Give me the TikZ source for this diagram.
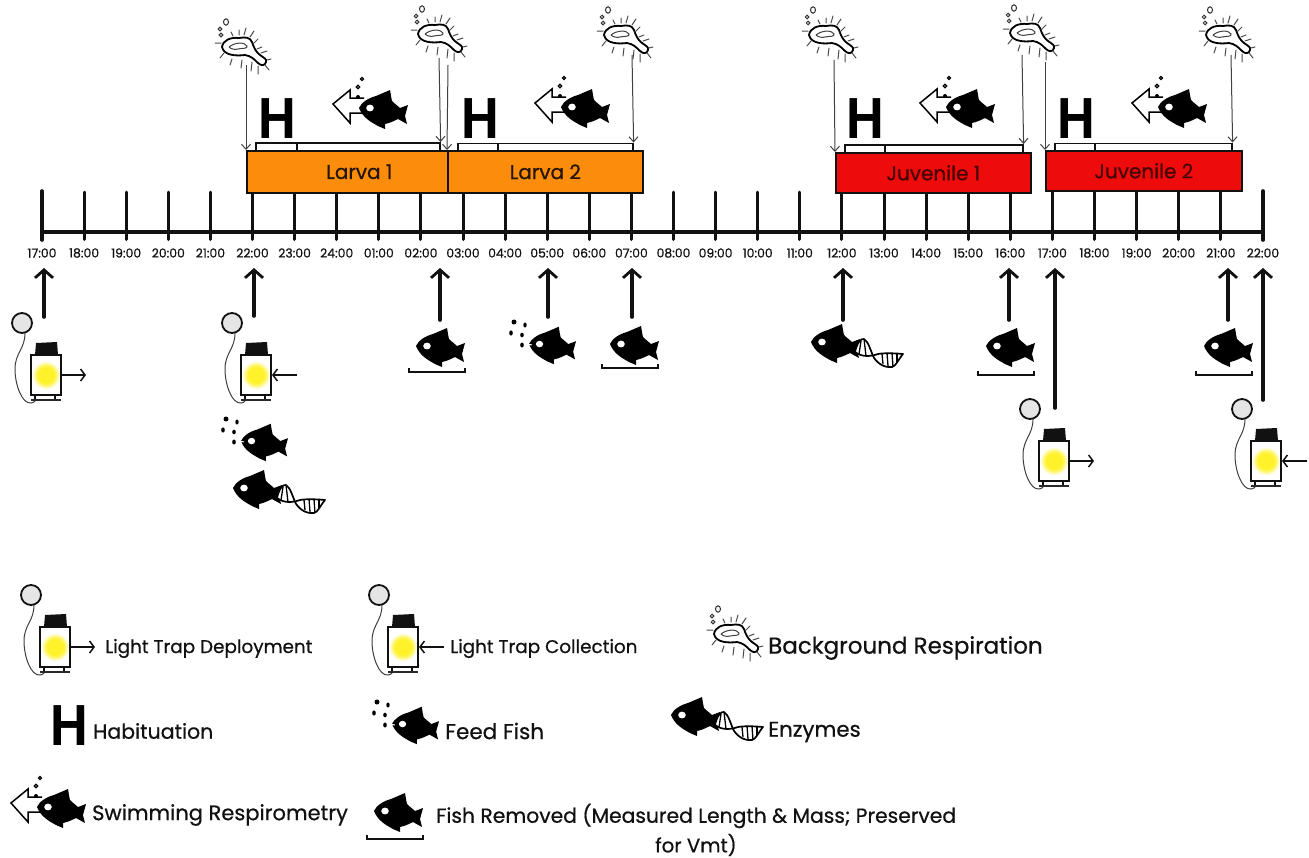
\documentclass[tikz,border=0pt]{standalone}
\usepackage{fontspec}
\setmainfont{Poppins}[FakeBold=0.6]
\newfontfamily\hfont{Liberation Sans}
\usetikzlibrary{arrows.meta}
\definecolor{orangebox}{HTML}{FB8C0C}
\definecolor{redbox}{HTML}{EE0B0B}
\definecolor{ink}{HTML}{111111}
\definecolor{glowy}{HTML}{FFF22A}
\pgfdeclareradialshading{trapglow}{\pgfpoint{0bp}{0bp}}{color(0bp)=(glowy); color(14bp)=(glowy); color(20bp)=(glowy!55!white); color(25bp)=(white); color(50bp)=(white)}
\tikzset{
  x=1pt,y=-1pt,
  tick/.style={line width=3pt,line cap=round,ink},
  thinarrow/.style={line width=1pt,draw=ink!80,-{Straight Barb[length=5pt,width=9pt,line width=1pt]}},
  bigarrow/.style={line width=3.6pt,line cap=round,ink,-{Straight Barb[length=8pt,width=18pt,line width=2.8pt]}},
  hour/.style={font=\fontsize{12.4}{14}\selectfont,text=ink,inner sep=0pt},
  stagebox/.style={draw=ink,line width=1.6pt,anchor=north west,inner sep=0pt,font=\fontsize{20}{22}\selectfont},
  subbar/.style={draw=ink,line width=1.6pt,fill=white,anchor=north west,inner sep=0pt,minimum height=7.5pt},
  legend/.style={anchor=west,inner sep=0pt,text=ink,font=\fontsize{18.4}{20}\selectfont},
  bigH/.style={inner sep=0pt,text=black,font=\hfont\bfseries\fontsize{58}{60}\selectfont},
  fish/.pic={
    \fill[black,line join=round] (-24,-1) .. controls (-22,-6) and (-15,-11) .. (-7,-13) -- (7,-19)
      .. controls (8,-14) and (8,-11) .. (9,-8) .. controls (12,-5) and (15,-3) .. (17,-1)
      -- (25,-4) -- (22,7) -- (24,15) -- (15,10) .. controls (11,12) and (7,14) .. (2,15)
      -- (2,20) -- (-5,17) .. controls (-12,13) and (-20,9) .. (-24,-1) -- cycle;
    \fill[white] (-13,-1) ellipse[x radius=3.8,y radius=3.4];
  },
  pellets/.pic={
    \fill[black] (-38,-23) circle[radius=2.5] (-27,-20) ellipse[x radius=1.7,y radius=2.5]
      (-41,-12) ellipse[x radius=1.8,y radius=2.6] (-30,-10) ellipse[x radius=1.8,y radius=2.3]
      (-30,0) ellipse[x radius=1.8,y radius=2.5];
    \draw[white,line width=1pt] (-25,-1) -- (-20,0);
  },
  dna/.pic={
    \draw[line width=1.7pt,black,line join=round,fill=white] (20,9) .. controls (22,0) and (26,-5) .. (29,-4)
      .. controls (33,-2) and (36,8) .. (38,13) .. controls (41,19) and (48,25) .. (57,24)
      .. controls (61,23) and (63,17) .. (68,11) .. controls (58,10) and (48,10) .. (43,11)
      .. controls (37,13) and (28,15) .. (20,9) -- cycle;
    \foreach \a/\b/\c/\d in {26/-2/24/11, 29/-4/31/13, 47/11/48/21, 52/10/53/23, 57/10/58/24, 62/10/62/20}
      \draw[line width=1.3pt,black] (\a,\b) -- (\c,\d);
  },
  swimarrow/.pic={
    \draw[line width=1.5pt,black,fill=white,line join=miter]
      (-19,-11) -- (-33,-11) -- (-33,-19) -- (-50,-5) -- (-33,14) -- (-33,4) -- (-19,4);
    \fill[black] (-25,-12) circle[radius=2];
    \draw[line width=1.1pt,black,fill=ink!50] (-25,-22) circle[radius=1.9] (-21,-30) circle[radius=1.7];
  },
  shell/.pic={
    \draw[line width=1.8pt,black,fill=white,line join=round] (-23,-3) .. controls (-22,-10) and (-14,-13) .. (-6,-12)
      .. controls (0,-13) and (5,-13) .. (7,-8) .. controls (9,-2) and (11,2) .. (15,5)
      .. controls (19,8) and (22,9) .. (21,12) .. controls (20,16) and (16,16) .. (13,13)
      .. controls (9,9) and (6,6) .. (0,5) .. controls (-8,6) and (-21,6) .. (-23,-3) -- cycle;
    \draw[line width=1pt,black!75] (-16,-3) .. controls (-10,-8) and (0,-8) .. (2,-4) .. controls (3,-1) and (-3,-2) .. (-7,-1) .. controls (-10,0) and (-14,-1) .. (-16,-3);
    \draw[line width=1pt,black!70,line cap=round]
      (-30,-7) -- (-24,-7) (-25,8) -- (-21,3) (-15,15) -- (-13,9) (-4,18) -- (-3,10)
      (-14,-18) -- (-12,-14) (-6,-20) -- (-6,-15) (1,-22) -- (-1,-15) (9,-19) -- (5,-13)
      (13,-11) -- (8,-6) (17,-3) -- (12,-1) (22,1) -- (16,3) (26,9) -- (22,10) (24,20) -- (20,15)
      (13,24) -- (13,16) (6,21) -- (7,12);
    \draw[line width=1pt,black!80] (-19,-28) ellipse[x radius=2.5,y radius=3.2]
      (-25,-21) circle[radius=1.8] (-24,-15) circle[radius=1.8];
  },
  trapbase/.pic={
    \draw[line width=1.8pt,ink,fill=black!10] (-24,-52) circle[radius=10];
    \draw[line width=1pt,black!75] (-21,-42) .. controls (-21,-26) and (-31,-22) .. (-31,-6)
       .. controls (-31,10) and (-24,29) .. (-15,28) .. controls (-13,28) and (-12,27) .. (-10,25);
    \fill[ink,line join=round] (-11,-20) -- (-10,-32) -- (11,-33) -- (12,-20) -- cycle;
    \draw[line width=1.8pt,ink,fill=white] (-15,-20) rectangle (15,20);
    \shade[shading=trapglow] (-14,-14) rectangle (14,14);
    \draw[line width=1.8pt,ink] (-15,-20) rectangle (15,20);
    \draw[line width=1.1pt,ink] (-11,20) -- (-11,25) (9,20) -- (9,25);
    \draw[line width=1.4pt,ink!90] (-15,25) -- (15,25);
  },
  trapout/.pic={
    \pic {trapbase};
    \draw[line width=1.5pt,ink,-{Straight Barb[length=4.5pt,width=12pt,line width=1.5pt]}] (15,0) -- (40,0);
  },
  trapin/.pic={
    \pic {trapbase};
    \draw[line width=1.5pt,ink,-{Straight Barb[length=4.5pt,width=12pt,line width=1.5pt]}] (41,0) -- (16,0);
  },
  tray/.pic={
    \draw[line width=1.4pt,ink] (0,-4) -- (0,0) -- (56,0) -- (56,-4);
  },
}
\begin{document}
\begin{tikzpicture}
\useasboundingbox[fill=white] (0,0) rectangle (1309,857);

% timeline
\coordinate (axisL) at (42,232);
\coordinate (axisR) at (1263,232);
\draw[line width=3.6pt,ink] (axisL) -- (axisR);
\foreach \lab [count=\i from 0, evaluate=\i as \xx using 42+42.1*\i] in
 {17:00,18:00,19:00,20:00,21:00,22:00,23:00,24:00,01:00,02:00,03:00,04:00,05:00,06:00,07:00,08:00,09:00,10:00,11:00,12:00,13:00,14:00,15:00,16:00,17:00,18:00,19:00,20:00,21:00,22:00}{
   \node[hour] (h\i) at (\xx,253) {\lab};
   \draw[tick] (\xx,192) -- (\xx,239.5);
}
\draw[line width=3.6pt,ink,line cap=round] (42,191) -- (42,240);
\draw[line width=3.6pt,ink,line cap=round] (1263,191) -- (1263,240);

% stage boxes
\node[stagebox,fill=orangebox,minimum width=201pt,minimum height=42pt,text=black!85!orangebox] (larva1) at (246,150) {\hspace*{24pt}Larva 1};
\node[stagebox,fill=orangebox,minimum width=195pt,minimum height=42pt,text=black!85!orangebox] (larva2) at (447,150) {Larva 2};
\node[stagebox,fill=redbox,minimum width=195pt,minimum height=40pt,text=black!70!redbox] (juv1) at (835,152) {Juvenile 1};
\node[stagebox,fill=redbox,minimum width=196pt,minimum height=40pt,text=black!70!redbox] (juv2) at (1045,150) {Juvenile 2};

% habituation and swim bars
\node[subbar,minimum width=41pt] (hb1) at (255,142) {};
\node[subbar,minimum width=143pt] (sb1) at (296,142) {};
\node[subbar,minimum width=40pt] (hb2) at (457,142.5) {};
\node[subbar,minimum width=135pt] (sb2) at (497,142.5) {};
\node[subbar,minimum width=40pt] (hb3) at (844,144) {};
\node[subbar,minimum width=138pt] (sb3) at (884,144) {};
\node[subbar,minimum width=40pt] (hb4) at (1054,142.5) {};
\node[subbar,minimum width=137pt] (sb4) at (1094,142.5) {};

% H marks
\node[bigH] (H1) at (277,119) {\scalebox{.9}[1]{H}};
\node[bigH] (H2) at (480,119) {\scalebox{.9}[1]{H}};
\node[bigH] (H3) at (865,119) {\scalebox{.9}[1]{H}};
\node[bigH] (H4) at (1076,119) {\scalebox{.9}[1]{H}};

% swimming fish
\foreach \x/\y in {383/109,585/108,970/108,1182/108}{
  \pic at (\x,\y) {swimarrow};
  \pic at (\x,\y) {fish};
}

% background respiration icons
\foreach \x/\y in {245/50,441/37,627/38,832/38,1033/36,1229/38}{
  \pic at (\x,\y) {shell};
}
\coordinate (sa1) at (246,65);
\coordinate (sa2) at (439,58);
\coordinate (sa3) at (448,65);
\coordinate (sa4) at (632,55);
\coordinate (sa5) at (834,60);
\coordinate (sa6) at (1022,55);
\coordinate (sa7) at (1045,62);
\coordinate (sa8) at (1231,55);
\draw[thinarrow] (sa1) -- (larva1.north west);
\draw[thinarrow] (sa2) -- (sb1.north east);
\draw[thinarrow] (sa3) -- (larva2.north west);
\draw[thinarrow] (sa4) -- (sb2.north east);
\draw[thinarrow] (sa5) -- (juv1.north west);
\draw[thinarrow] (sa6) -- (sb3.north east);
\draw[thinarrow] (sa7) -- (juv2.north west);
\draw[thinarrow] (sa8) -- (sb4.north east);

% event arrows below axis
\foreach \n/\x/\y in {1/44/317,2/254/316,3/440/320,4/548/317,5/632/317,6/843/320,7/1055/408,8/1009/320,9/1228/320,10/1263/400}{
  \coordinate (eb\n) at (\x,\y);
  \coordinate (et\n) at (\x,268);
  \draw[bigarrow] (eb\n) -- (et\n);
}

% light traps
\pic at (46,375) {trapout};
\pic at (256,375) {trapin};
\pic at (1054,461) {trapout};
\pic at (1266,461) {trapin};

% feed fish
\foreach \x/\y in {264/442,552/345}{
  \pic at (\x,\y) [scale=.96] {fish};
  \pic at (\x,\y) {pellets};
}

% enzyme fish
\foreach \x/\y in {257/489,835/343}{
  \pic at (\x,\y) {fish};
  \pic at (\x,\y) {dna};
}

% removed fish
\foreach \x/\y/\bx/\by in {440/347/409/372,634/345/602/368,1010/347/978/375,1228/347/1196/375}{
  \pic at (\x,\y) {fish};
  \pic at (\bx,\by) {tray};
}

% legend
\pic at (55,647) {trapout};
\node[legend] (ldep) at (105,648.5) {Light Trap Deployment};
\pic at (403,647) {trapin};
\node[legend] (lcol) at (450,648.5) {Light Trap Collection};
\pic at (737,637) {shell};
\node[legend,font=\fontsize{23}{25}\selectfont] (lbg) at (768,648) {Background Respiration};
\node[bigH] (lH) at (69,726) {\scalebox{.9}[1]{H}};
\node[legend,font=\fontsize{20.5}{22}\selectfont] (lhab) at (93,731) {Habituation};
\pic at (415,725) [scale=.96] {fish};
\pic at (415,725) {pellets};
\node[legend,font=\fontsize{21.5}{24}\selectfont] (lfeed) at (445,731) {Feed Fish};
\pic at (695,716) {fish};
\pic at (695,716) {dna};
\node[legend,font=\fontsize{21.3}{24}\selectfont] (lenz) at (768,732) {Enzymes};
\pic at (61,808) {swimarrow};
\pic at (61,808) {fish};
\node[legend,font=\fontsize{21}{24}\selectfont] (lswim) at (92,815) {Swimming Respirometry};
\pic at (398,812) {fish};
\pic at (367,839) {tray};
\node[legend,font=\fontsize{20.3}{22}\selectfont] (lrem) at (436,816) {Fish Removed (Measured Length \& Mass; Preserved};
\node[legend,font=\fontsize{19.7}{22}\selectfont] (lrem2) at (655,845) {for Vmt)};
\end{tikzpicture}
\end{document}
